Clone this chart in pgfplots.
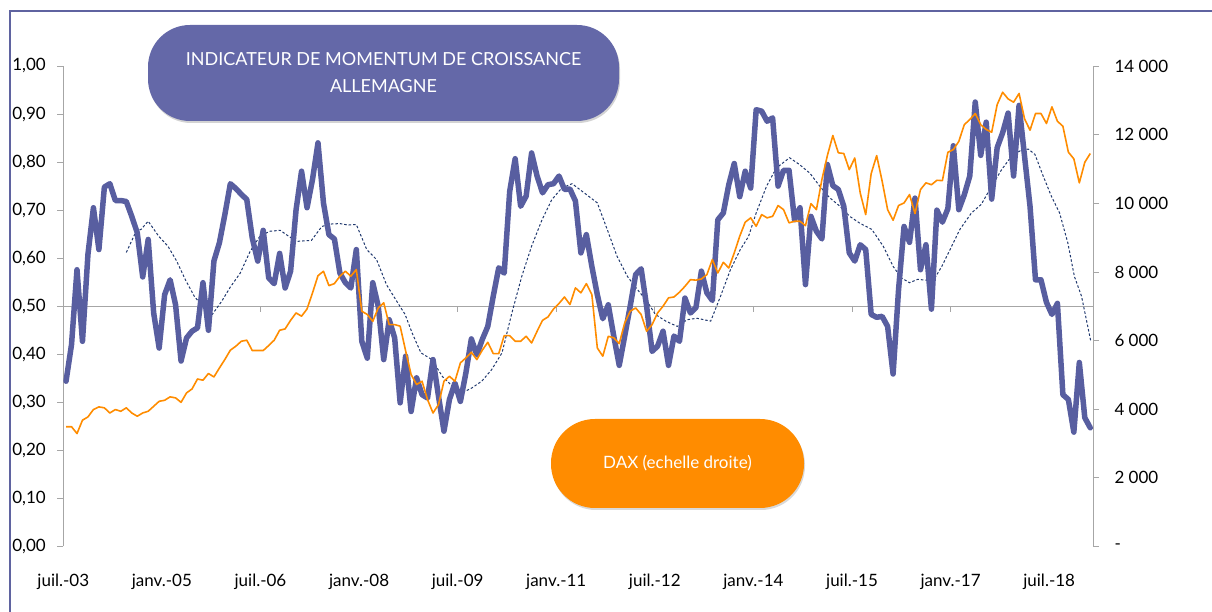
\documentclass[border=0pt]{standalone}
\usepackage{pgfplots}
\pgfplotsset{compat=1.18}
\usepackage{pgfplotstable}
\usepackage{fontspec}
\setmainfont{Lato}
\usetikzlibrary{shadows}

\definecolor{momblue}{RGB}{88,94,160}
\definecolor{boxblue}{RGB}{100,104,168}
\definecolor{daxorange}{RGB}{255,140,0}
\definecolor{navyline}{RGB}{32,56,110}
\definecolor{axgray}{RGB}{166,166,166}
\definecolor{frameblue}{RGB}{95,99,160}

\pgfplotstableread{
m v
0 0.344
1 0.420
2 0.576
3 0.427
4 0.608
5 0.705
6 0.618
7 0.748
8 0.755
9 0.720
10 0.720
11 0.718
12 0.687
13 0.653
14 0.561
15 0.639
16 0.486
17 0.413
18 0.524
19 0.555
20 0.503
21 0.386
22 0.434
23 0.448
24 0.455
25 0.549
26 0.450
27 0.594
28 0.632
29 0.691
30 0.755
31 0.745
32 0.733
33 0.722
34 0.642
35 0.594
36 0.658
37 0.559
38 0.547
39 0.610
40 0.538
41 0.573
42 0.701
43 0.781
44 0.705
45 0.764
46 0.840
47 0.715
48 0.649
49 0.640
50 0.569
51 0.549
52 0.538
53 0.618
54 0.427
55 0.392
56 0.549
57 0.500
58 0.389
59 0.472
60 0.434
61 0.299
62 0.396
63 0.281
64 0.351
65 0.316
66 0.309
67 0.389
68 0.313
69 0.240
70 0.306
71 0.340
72 0.302
73 0.361
74 0.432
75 0.399
76 0.431
77 0.458
78 0.521
79 0.580
80 0.569
81 0.739
82 0.807
83 0.708
84 0.729
85 0.819
86 0.771
87 0.736
88 0.753
89 0.755
90 0.771
91 0.743
92 0.744
93 0.719
94 0.611
95 0.649
96 0.583
97 0.524
98 0.474
99 0.503
100 0.438
101 0.377
102 0.438
103 0.500
104 0.566
105 0.578
106 0.500
107 0.406
108 0.417
109 0.448
110 0.377
111 0.438
112 0.427
113 0.517
114 0.486
115 0.497
116 0.573
117 0.528
118 0.512
119 0.680
120 0.694
121 0.753
122 0.797
123 0.728
124 0.781
125 0.746
126 0.909
127 0.906
128 0.885
129 0.892
130 0.750
131 0.783
132 0.783
133 0.680
134 0.705
135 0.545
136 0.687
137 0.656
138 0.640
139 0.795
140 0.751
141 0.743
142 0.708
143 0.611
144 0.594
145 0.628
146 0.618
147 0.483
148 0.477
149 0.479
150 0.458
151 0.359
152 0.535
153 0.666
154 0.633
155 0.725
156 0.576
157 0.628
158 0.494
159 0.700
160 0.675
161 0.703
162 0.834
163 0.701
164 0.732
165 0.771
166 0.925
167 0.814
168 0.883
169 0.723
170 0.830
171 0.861
172 0.902
173 0.771
174 0.918
175 0.812
176 0.708
177 0.555
178 0.555
179 0.508
180 0.483
181 0.506
182 0.316
183 0.306
184 0.238
185 0.383
186 0.268
187 0.247
}\momtable

\pgfplotstableread{
m v
11.0 0.612
12.8 0.656
13.7 0.660
15.0 0.677
16.9 0.646
18.6 0.625
20.2 0.594
21.8 0.555
23.4 0.521
25.4 0.493
26.7 0.483
28.4 0.510
30.0 0.540
31.8 0.569
33.6 0.614
35.4 0.646
37.2 0.656
39.1 0.658
40.6 0.646
42.1 0.635
44.8 0.637
46.7 0.666
48.2 0.671
50.0 0.672
51.5 0.669
53.0 0.670
54.9 0.618
56.7 0.597
58.5 0.545
60.4 0.510
61.9 0.483
63.2 0.444
64.8 0.403
66.8 0.389
68.7 0.354
70.5 0.334
72.3 0.320
74.1 0.330
75.9 0.344
77.7 0.368
79.6 0.403
81.4 0.486
83.2 0.562
85.0 0.625
86.9 0.680
88.7 0.722
90.5 0.746
92.4 0.755
94.6 0.736
97.0 0.715
98.8 0.660
100.6 0.604
102.5 0.562
104.3 0.535
106.1 0.510
107.6 0.483
109.5 0.469
111.6 0.458
113.4 0.472
115.2 0.475
117.7 0.469
119.5 0.521
121.3 0.576
123.1 0.618
124.6 0.645
126.0 0.694
127.9 0.750
129.7 0.788
132.1 0.809
133.9 0.795
135.8 0.777
137.6 0.750
139.4 0.726
141.3 0.708
143.1 0.687
144.9 0.673
147.1 0.660
149.2 0.625
151.0 0.583
152.5 0.559
154.0 0.549
155.5 0.556
157.1 0.554
158.0 0.547
159.9 0.583
161.7 0.625
163.2 0.660
165.3 0.694
167.1 0.712
169.0 0.750
170.8 0.784
172.6 0.812
174.4 0.825
175.7 0.827
176.9 0.816
178.4 0.771
179.9 0.729
181.4 0.694
182.9 0.632
184.1 0.562
185.4 0.521
187.1 0.427
}\matable

\pgfplotstableread{
m v
0 3490
1 3490
2 3290
3 3680
4 3775
5 3990
6 4067
7 4040
8 3890
9 3990
10 3940
11 4040
12 3890
13 3795
14 3890
15 3940
16 4085
17 4230
18 4260
19 4360
20 4330
21 4200
22 4475
23 4590
24 4880
25 4845
26 5040
27 4940
28 5200
29 5450
30 5720
31 5835
32 5980
33 6010
34 5710
35 5710
36 5710
37 5855
38 6010
39 6300
40 6340
41 6590
42 6805
43 6710
44 6920
45 7390
46 7890
47 8020
48 7600
49 7660
50 7875
51 8020
52 7875
53 8070
54 6855
55 6760
56 6560
57 6950
58 7100
59 6465
60 6465
61 6420
62 5700
63 5010
64 4720
65 4815
66 4280
67 3890
68 4135
69 4815
70 4960
71 4815
72 5350
73 5495
74 5660
75 5445
76 5720
77 5950
78 5620
79 5620
80 6145
81 6145
82 5980
83 5980
84 6125
85 5930
86 6270
87 6590
88 6690
89 6920
90 7080
91 7270
92 7050
93 7535
94 7390
95 7660
96 7340
97 5785
98 5545
99 6125
100 6080
101 5910
102 6515
103 6855
104 6950
105 6760
106 6270
107 6465
108 6805
109 7000
110 7245
111 7270
112 7410
113 7580
114 7775
115 7760
116 7795
117 7920
118 8360
119 7970
120 8280
121 8115
122 8555
123 9040
124 9450
125 9575
126 9330
127 9670
128 9575
129 9620
130 9935
131 9815
132 9430
133 9475
134 9475
135 9350
136 9990
137 9815
138 10690
139 11390
140 11975
141 11470
142 11450
143 10980
144 11320
145 10300
146 9670
147 10865
148 11390
149 10645
150 9815
151 9505
152 9935
153 10010
154 10255
155 9700
156 10400
157 10595
158 10540
159 10670
160 10660
161 11485
162 11565
163 11805
164 12290
165 12440
166 12615
167 12290
168 12150
169 12070
170 12875
171 13235
172 13040
173 12945
174 13200
175 12460
176 12130
177 12615
178 12615
179 12325
180 12810
181 12390
182 12245
183 11490
184 11295
185 10595
186 11195
187 11450
}\daxtable

\begin{document}
\begin{tikzpicture}
\useasboundingbox (0,0) rectangle (1212pt,612pt);
\draw[frameblue, line width=2pt] (10pt,0pt) -- (10pt,600.5pt) -- (1212pt,600.5pt);

\begin{axis}[
  at={(63.3pt,65.5pt)}, anchor=south west,
  scale only axis, width=1029.7pt, height=480.5pt,
  xmin=-0.5, xmax=187.5, ymin=0, ymax=1,
  axis x line*=bottom, axis y line*=left,
  x axis line style={draw=none},
  y axis line style={draw=axgray, line width=0.8pt},
  xtick={-0.5,17.5,35.5,53.5,71.5,89.5,107.5,125.5,143.5,161.5,179.5},
  xticklabels={juil.-03,janv.-05,juil.-06,janv.-08,juil.-09,janv.-11,juil.-12,janv.-14,juil.-15,janv.-17,juil.-18},
  x tick style={draw=none},
  ytick={0,0.1,0.2,0.3,0.4,0.5,0.6,0.7,0.8,0.9,1},
  y tick style={draw=axgray, line width=0.8pt},
  tick align=outside, major tick length=6pt,
  ticklabel style={font=\fontsize{17}{20}\selectfont},
  yticklabel style={xshift=-8pt, /pgf/number format/fixed, /pgf/number format/fixed zerofill, /pgf/number format/precision=2, /pgf/number format/use comma, /pgf/number format/assume math mode=true},
  xticklabel style={yshift=-18pt},
  clip=false,
]
\draw[axgray, line width=1pt] (axis cs:-0.5,0.5) -- (axis cs:187.5,0.5);
\pgfplotsinvokeforeach{17.5,35.5,53.5,71.5,89.5,107.5,125.5,143.5,161.5,179.5}{
  \draw[axgray, line width=0.8pt] (axis cs:#1,0.5) -- ++(0pt,-6pt);
}
\addplot[navyline, line width=1pt, dash pattern=on 2.5pt off 2pt] table[x=m,y=v]{\matable};
\addplot[momblue, line width=5.5pt, line join=round, line cap=round] table[x=m,y=v]{\momtable};
\end{axis}

\begin{axis}[
  at={(63.3pt,65.5pt)}, anchor=south west,
  scale only axis, width=1029.7pt, height=480.5pt,
  xmin=-0.5, xmax=187.5, ymin=0, ymax=14000,
  axis x line=none, axis y line*=right,
  scaled y ticks=false,
  y axis line style={draw=axgray, line width=0.8pt},
  ytick={0,2000,4000,6000,8000,10000,12000,14000},
  yticklabels={{-},{2 000},{4 000},{6 000},{8 000},{10 000},{12 000},{14 000}},
  y tick style={draw=axgray, line width=0.8pt},
  tick align=outside, major tick length=6pt,
  ticklabel style={font=\fontsize{17}{20}\selectfont},
  yticklabel style={xshift=12pt},
  clip=false,
]
\addplot[daxorange, line width=1.6pt, line join=round] table[x=m,y=v]{\daxtable};
\end{axis}

\node[fill=boxblue, rounded corners=42pt, minimum width=471pt, minimum height=96pt, text=white, align=center,
  font=\fontsize{18}{27}\selectfont, drop shadow={opacity=0.35, shadow xshift=1pt, shadow yshift=-2pt}]
  at (383.5pt,539pt) {INDICATEUR DE MOMENTUM DE CROISSANCE\\ALLEMAGNE};
\node[fill=daxorange, rounded corners=44pt, minimum width=253pt, minimum height=89pt, text=white,
  font=\fontsize{17}{20}\selectfont, drop shadow={opacity=0.3, shadow xshift=1pt, shadow yshift=-2pt}]
  at (677.5pt,148.5pt) {DAX (echelle droite)};
\end{tikzpicture}
\end{document}
